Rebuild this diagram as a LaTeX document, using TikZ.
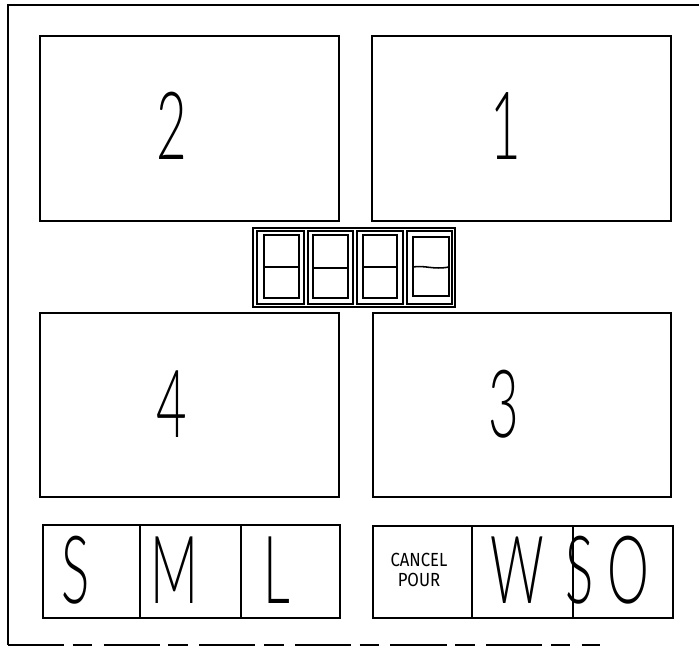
\documentclass[tikz,border=0pt]{standalone}
\usepackage{fontspec}
\setmainfont{Fira Sans}
\newfontfamily\thinfont{Lato Light}
\tikzset{
  panel/.style={line width=1.1pt},
  bignum/.style={font=\thinfont\fontsize{67}{67}\selectfont, inner sep=0pt, xscale=0.56},
  smalltxt/.style={font=\fontsize{13.5}{14}\selectfont, inner sep=0pt, align=center, xscale=0.88}
}
\begin{document}
\begin{tikzpicture}[x=0.025cm, y=-0.025cm]
    \useasboundingbox (0,0) rectangle (699,648);
    % 外框
    \draw[panel] (699,5) -- (8,5) -- (8,645);
    \draw[panel, dash pattern=on 40pt off 6pt on 14pt off 8pt] (8,645) -- (600,645);

    % 四个大窗口
    \draw[panel] (40,36) rectangle (339,221);
    \draw[panel] (372,36) rectangle (671,221);
    \draw[panel] (40,313) rectangle (339,497);
    \draw[panel] (373,313) rectangle (671,497);
    \node[bignum] (n2) at (172,126) {2};
    \node[bignum] (n1) at (506,126) {1};
    \node[bignum] (n4) at (172,404) {4};
    \node[bignum] (n3) at (504,404) {3};

    % 数码管显示
    \draw[panel] (253,228) rectangle (455,307);
    \draw[panel] (257,231) rectangle (304,304);
    \draw[panel] (308,231) rectangle (353,304);
    \draw[panel] (357,231) rectangle (403,304);
    \draw[panel] (407,231) rectangle (452,304);
    \draw[panel] (264,235) rectangle (299,298);
    \draw[panel] (313,235) rectangle (348,298);
    \draw[panel] (363,235) rectangle (397,298);
    \draw[panel] (413,237) rectangle (449,296);
    \draw[panel] (264,267) -- (299,267);
    \draw[panel] (313,268) -- (348,268);
    \draw[panel] (363,267) -- (397,267);
    \draw[panel] (413,267) .. controls (425,265) and (433,270) .. (449,267);

    % 杯型按钮 S M L
    \draw[panel] (43,525) rectangle (340,618);
    \draw[panel] (140,525) -- (140,618);
    \draw[panel] (241,525) -- (241,618);
    \node[bignum] (bs) at (76,570) {S};
    \node[bignum] (bm) at (174,570) {M};
    \node[bignum] (bl) at (277,570) {L};

    % 取消 / W / SO
    \draw[panel] (373,526) rectangle (673,618);
    \draw[panel] (472,526) -- (472,618);
    \draw[panel] (573,526) -- (573,618);
    \node[smalltxt] (cancel) at (419,570) {CANCEL\\POUR};
    \node[bignum] (bw) at (517,570) {W};
    \node[bignum] (bso) at (580,570) {S};
    \node[bignum] (bo) at (628,570) {O};
\end{tikzpicture}
\end{document}
